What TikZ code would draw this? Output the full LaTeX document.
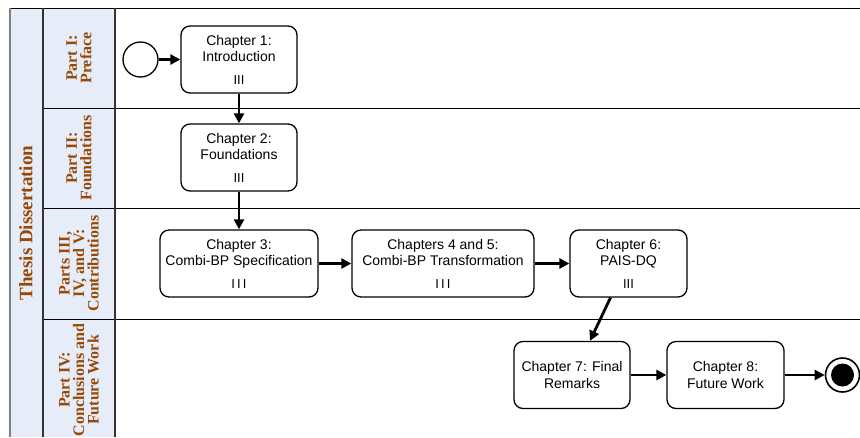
\documentclass[tikz,border=0pt]{standalone}
\usepackage{fontspec}
\setmainfont{Liberation Sans}
\newfontfamily\lanefont{Liberation Serif}
\usetikzlibrary{arrows.meta}
\definecolor{lanebrown}{HTML}{984806}
\definecolor{laneblue}{HTML}{E6EDF8}
\newcommand{\mimarker}[1]{{\fontsize{13}{13}\selectfont #1}}

\tikzset{
  chapterbox/.style={draw, rounded corners=9pt, line width=1.3pt, align=center,
    minimum height=67pt, inner sep=2pt, font=\fontsize{14}{16.5}\selectfont},
  flow/.style={line width=2.8pt, -{Triangle[length=10pt,width=10pt]}},
  lanetitle/.style={rotate=90, align=center, text=lanebrown,
    font=\lanefont\bfseries\fontsize{16}{14.5}\selectfont},
  startevent/.style={circle, draw, line width=1.3pt, minimum size=35pt, inner sep=0pt},
  endevent/.style={circle, draw, line width=1.6pt, minimum size=34pt, inner sep=0pt,
    path picture={\fill (path picture bounding box.center) circle (11.5pt);}}
}

\begin{document}
\begin{tikzpicture}[x=1pt, y=-1pt]
    \useasboundingbox (0,0) rectangle (860,437);
    % pool and lanes
    \fill[laneblue] (10,8) rectangle (115,437);
    \draw[line width=1pt] (10,8) -- (860,8);
    \foreach \y in {108,208,319}
    \draw[line width=1pt] (43,\y) -- (860,\y);
    \draw[line width=1.8pt, color=gray] (10,8) -- (10,437);
    \draw[line width=1.2pt, color=black!80] (43,8) -- (43,437);
    \draw[line width=1.2pt, color=black!80] (115,8) -- (115,437);
    \node[lanetitle, font=\lanefont\bfseries\fontsize{19}{20}\selectfont] (pool) at (26,223) {Thesis Dissertation};
    \node[lanetitle] (lane1) at (79,58) {Part I:\\Preface};
    \node[lanetitle] (lane2) at (79,158) {Part II:\\Foundations};
    \node[lanetitle] (lane3) at (79,263.5) {Parts III,\\IV, and V:\\Contributions};
    \node[lanetitle] (lane4) at (79,380) {Part IV:\\Conclusions and\\Future Work};

    % events and chapters
    \node[startevent] (start) at (140.5,59.5) {};
    \node[chapterbox, minimum width=116pt] (ch1) at (239,59.5) {Chapter 1:\\Introduction\\[6pt]\mimarker{III}};
    \node[chapterbox, minimum width=116pt] (ch2) at (239,157.5) {Chapter 2:\\Foundations\\[6pt]\mimarker{III}};
    \node[chapterbox, minimum width=158pt] (ch3) at (239,263.5) {Chapter 3:\\Combi-BP Specification\\[6pt]\mimarker{I\,I\,I}};
    \node[chapterbox, minimum width=182pt] (ch45) at (443,263.5) {Chapters 4 and 5:\\Combi-BP Transformation\\[6pt]\mimarker{I\,I\,I}};
    \node[chapterbox, minimum width=117pt] (ch6) at (628.5,263.5) {Chapter 6:\\PAIS-DQ\\[6pt]\mimarker{III}};
    \node[chapterbox, minimum width=116pt] (ch7) at (572,375) {Chapter 7: Final\\Remarks};
    \node[chapterbox, minimum width=117pt] (ch8) at (725.5,375) {Chapter 8:\\Future Work};
    \node[endevent] (end) at (842.5,375) {};

    % sequence flows
    \draw[flow] (start) -- (ch1);
    \draw[flow] (ch1) -- (ch2);
    \draw[flow] (ch2) -- (ch3);
    \draw[flow] (ch3) -- (ch45);
    \draw[flow] (ch45) -- (ch6);
    \draw[flow] ([xshift=-18pt]ch6.south) -- ([xshift=18pt]ch7.north);
    \draw[flow] (ch7) -- (ch8);
    \draw[flow] (ch8) -- (end);
\end{tikzpicture}
\end{document}
